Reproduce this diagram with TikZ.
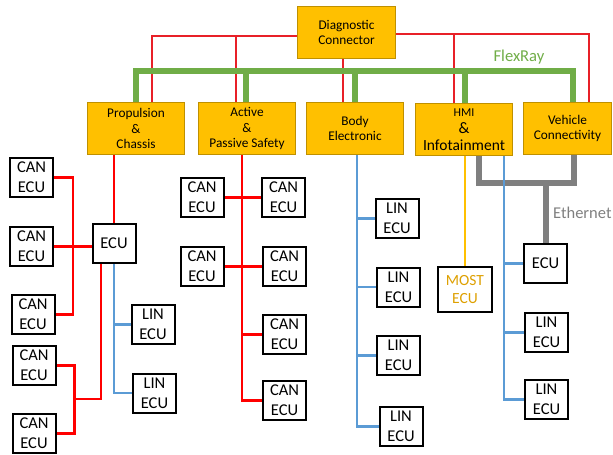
\documentclass[tikz,border=0pt]{standalone}
\usepackage{fontspec}
\setmainfont{Carlito}
\usetikzlibrary{backgrounds}
\definecolor{ygold}{RGB}{255,192,0}
\definecolor{yborder}{RGB}{191,144,0}
\definecolor{flexg}{RGB}{112,173,71}
\definecolor{linb}{RGB}{91,155,213}
\definecolor{ethg}{RGB}{127,127,127}
\definecolor{mosttext}{RGB}{222,160,0}
\definecolor{diagred}{RGB}{232,32,40}
\definecolor{canred}{RGB}{255,0,0}
\tikzset{
  ecubox/.style={draw=black, line width=2pt, fill=white, minimum width=43pt, minimum height=39pt,
    inner sep=0pt, align=center, font=\fontsize{16.5}{20}\selectfont},
  ybox/.style={draw=yborder, line width=1pt, fill=ygold, minimum width=97pt, minimum height=52pt,
    inner sep=0pt, align=center, font=\fontsize{13.3}{15.5}\selectfont},
  diagline/.style={draw=diagred, line width=1.3pt},
  canline/.style={draw=canred, line width=2.6pt},
  linline/.style={draw=linb, line width=2.4pt},
  flexline/.style={draw=flexg, line width=5.5pt},
  ethline/.style={draw=ethg, line width=6pt},
  mostline/.style={draw=ygold, line width=2.2pt},
}
\begin{document}
\begin{tikzpicture}[x=1pt,y=-1pt]
\useasboundingbox (0,0) rectangle (613,455);

% top level
\node[ybox, minimum width=98pt, minimum height=52pt] (diag) at (346.5,32.5) {Diagnostic\\Connector};
\node[ybox] (prop) at (136,128.5) {Propulsion\\\&\\Chassis};
\node[ybox] (act) at (247,128.5) {Active\\\&\\Passive Safety};
\node[ybox] (body) at (355,128.5) {Body\\Electronic};
\node[ybox] (hmi) at (464,129.5) {{\fontsize{12}{13}\selectfont HMI}\\[1.5pt]{\fontsize{16}{18}\selectfont \&}\\[1.5pt]{\fontsize{15.5}{18}\selectfont Infotainment}};
\node[ybox, minimum width=88pt] (veh) at (567.5,128.5) {Vehicle\\Connectivity};

\node[text=flexg, font=\fontsize{16.6}{20}\selectfont, inner sep=0pt] (flexlabel) at (519,57) {FlexRay};
\node[text=ethg, font=\fontsize{16.5}{20}\selectfont, inner sep=0pt, anchor=west] (ethlabel) at (553,213) {Ethernet};

% propulsion subtree
\node[ecubox] (can1) at (31.5,177.5) {CAN\\ECU};
\node[ecubox] (can2) at (31.5,246.5) {CAN\\ECU};
\node[ecubox] (can3) at (33,314.5) {CAN\\ECU};
\node[ecubox] (can4) at (34,365.5) {CAN\\ECU};
\node[ecubox] (can5) at (34,433.5) {CAN\\ECU};
\node[ecubox] (ecu1) at (114,243.5) {ECU};
\node[ecubox] (lin1) at (153,324.5) {LIN\\ECU};
\node[ecubox] (lin2) at (154.5,393) {LIN\\ECU};

% active safety subtree
\node[ecubox] (a1) at (202,197.5) {CAN\\ECU};
\node[ecubox] (a2) at (202,266.5) {CAN\\ECU};
\node[ecubox] (b1) at (283.5,197.5) {CAN\\ECU};
\node[ecubox] (b2) at (284.5,266.5) {CAN\\ECU};
\node[ecubox] (b3) at (284.5,334.5) {CAN\\ECU};
\node[ecubox] (b4) at (284.5,400.5) {CAN\\ECU};

% body subtree
\node[ecubox] (l1) at (397,218.5) {LIN\\ECU};
\node[ecubox] (l2) at (398.5,287) {LIN\\ECU};
\node[ecubox] (l3) at (398.5,355.5) {LIN\\ECU};
\node[ecubox] (l4) at (401,426.5) {LIN\\ECU};

% HMI / connectivity subtree
\node[ecubox, minimum width=54pt, minimum height=45pt, text=mosttext, font=\fontsize{15.5}{18}\selectfont] (most) at (465,289.5) {MOST\\ECU};
\node[ecubox] (ecu2) at (545.5,263.5) {ECU};
\node[ecubox] (v1) at (546.5,332.5) {LIN\\ECU};
\node[ecubox] (v2) at (546.5,399.5) {LIN\\ECU};

\begin{scope}[on background layer]
  % diagnostic lines
  \draw[diagline] ([yshift=-3.5pt]diag.west) -| ([xshift=16pt]prop.north);
  \draw[diagline] ([xshift=-11pt]act.north) |- ([yshift=-3.5pt]diag.west);
  \draw[diagline] ([yshift=-1.5pt]diag.east) -| ([xshift=21.5pt]veh.north);
  \draw[diagline] ([xshift=-10pt]hmi.north) |- ([yshift=-1.5pt]diag.east);
  \draw[diagline] ([xshift=-3.5pt]diag.south) -- ([xshift=-12pt]body.north);
  % FlexRay
  \draw[flexline] (prop.north) -- ++(0,-31) -| ([xshift=5.5pt]veh.north);
  \draw[flexline] ([xshift=-1pt]act.north) -- ++(0,-33);
  \draw[flexline] (body.north) -- ++(0,-33);
  \draw[flexline] ([xshift=1pt]hmi.north) -- ++(0,-33);
  % propulsion CAN
  \draw[canline] (ecu1.north) -- (ecu1.north |- prop.south);
  \draw[canline] (can1.east) -- ++(19,0) |- (can3.east);
  \draw[canline] (can2.east) -- (can2.east -| ecu1.west);
  \draw[canline] ([xshift=-13pt]ecu1.south) -- ++(0,135) -- ++(-27,0);
  \draw[canline] (can4.east) -- ++(18,0) |- (can5.east);
  % propulsion LIN
  \draw[linline] (ecu1.south) |- (lin2.west);
  \draw[linline] (lin1.west) -- (lin1.west -| ecu1.south);
  % active safety CAN
  \draw[canline] ([xshift=-5pt]act.south) |- (b4.west);
  \draw[canline] (a1.east) -- (b1.west);
  \draw[canline] (a2.east) -- (b2.west);
  \draw[canline] (b3.west) -- ([xshift=-5pt]b3.west -| act.south);
  % body LIN
  \draw[linline] ([xshift=2pt]body.south) |- (l4.west);
  \draw[linline] (l1.west) -- ([xshift=2pt]l1.west -| body.south);
  \draw[linline] (l2.west) -- ([xshift=2pt]l2.west -| body.south);
  \draw[linline] (l3.west) -- ([xshift=2pt]l3.west -| body.south);
  % MOST
  \draw[mostline] (most.north) -- (most.north |- hmi.south);
  % Ethernet
  \draw[ethline] ([xshift=15pt]hmi.south) -- ++(0,27) -| ([xshift=6.5pt]veh.south);
  \draw[ethline] (ecu2.north) -- ++(0,-62);
  % HMI LIN
  \draw[linline] ([xshift=40pt]hmi.south) |- (v2.west);
  \draw[linline] (ecu2.west) -- ([xshift=40pt]ecu2.west -| hmi.south);
  \draw[linline] (v1.west) -- ([xshift=40pt]v1.west -| hmi.south);
\end{scope}
\end{tikzpicture}
\end{document}
